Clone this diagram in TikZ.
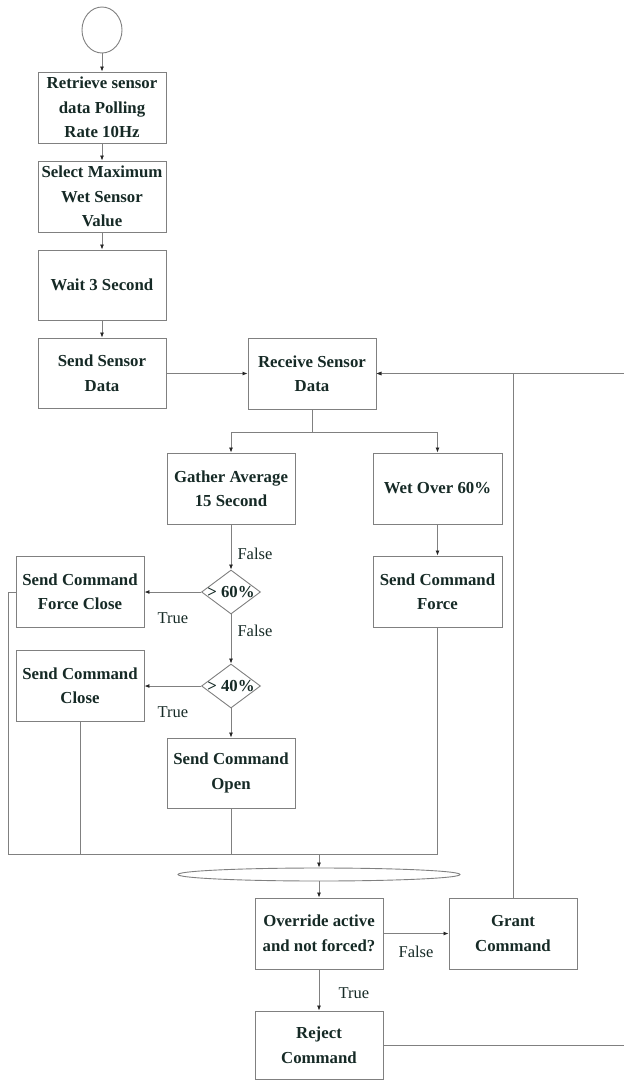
\documentclass[tikz,border=0pt]{standalone}
\usepackage{fontspec}
\setmainfont{Liberation Serif}
\usetikzlibrary{shapes.geometric,arrows.meta}
\definecolor{ln}{RGB}{128,128,128}
\definecolor{tx}{RGB}{22,42,38}
\begin{document}
\begin{tikzpicture}[x=1pt,y=-1pt,
  every node/.style={text=tx},
  box/.style={draw=ln,line width=0.9pt,rectangle,minimum width=128pt,minimum height=71pt,
    align=center,inner sep=2pt,font=\fontsize{16.8}{24.5}\selectfont\bfseries},
  dia/.style={draw=ln,line width=0.9pt,diamond,minimum width=59pt,minimum height=44pt,inner sep=0pt},
  lab/.style={font=\fontsize{16.5}{19}\selectfont,text=tx},
  ar/.style={draw=ln,line width=0.8pt,-{Latex[length=5pt,width=4pt,color=black!85]}},
  cn/.style={draw=ln,line width=0.8pt}]
\useasboundingbox (0,0) rectangle (624,1080);
\node[draw=ln,line width=0.9pt,ellipse,minimum width=40pt,minimum height=46pt,inner sep=0pt] (start) at (102,30) {};
\node[box] (b1) at (102,107.5) {Retrieve sensor\\data Polling\\Rate 10Hz};
\node[box] (b2) at (102,196.5) {Select Maximum\\Wet Sensor\\Value};
\node[box,minimum height=70pt] (b3) at (102,285) {Wait 3 Second};
\node[box,minimum height=70pt] (b4) at (102,373) {Send Sensor\\Data};
\node[box] (recv) at (312,373.5) {Receive Sensor\\Data};
\node[box] (gather) at (231,488.5) {Gather Average\\15 Second};
\node[box,minimum width=129pt] (wet) at (437.5,488.5) {Wet Over 60\%};
\node[box,minimum width=129pt] (force) at (437.5,591.5) {Send Command\\Force};
\node[dia,label={[font=\fontsize{16.8}{20}\selectfont\bfseries,text=tx]center:> 60\%}] (d60) at (231,592) {};
\node[box] (fclose) at (80,591.5) {Send Command\\Force Close};
\node[dia,label={[font=\fontsize{16.8}{20}\selectfont\bfseries,text=tx]center:> 40\%}] (d40) at (231,686) {};
\node[box] (close) at (80,685.5) {Send Command\\Close};
\node[box,minimum height=70pt] (open) at (231,773) {Send Command\\Open};
\node[draw=ln,line width=0.9pt,ellipse,minimum width=282pt,minimum height=13pt,inner sep=0pt] (merge) at (319,874.5) {};
\node[box] (over) at (319,933.5) {Override active\\and not forced?};
\node[box] (grant) at (513,933.5) {Grant\\Command};
\node[box,minimum height=68pt] (reject) at (319,1045) {Reject\\Command};
\coordinate (mj) at (319,854);
\coordinate (lc) at (8,854);
\coordinate (rc) at (628,600);
% arrows
\draw[ar] (start) -- (b1);
\draw[ar] (b1) -- (b2);
\draw[ar] (b2) -- (b3);
\draw[ar] (b3) -- (b4);
\draw[ar] (b4.east |- recv.west) -- (recv.west);
\draw[cn] (recv.south) -- ++(0,23) coordinate (sp);
\draw[ar] (sp) -| (gather.north);
\draw[ar] (sp) -| (wet.north);
\draw[ar] (gather) -- (d60);
\draw[ar] (d60) -- (fclose.east |- d60);
\draw[ar] (d60) -- (d40);
\draw[ar] (d40) -- (close.east |- d40);
\draw[ar] (d40) -- (open);
\draw[ar] (wet) -- (force);
\draw[cn] (fclose.west |- d60) -| (lc) -- (force.south |- lc) -- (force.south);
\draw[cn] (close.south) -- (close.south |- lc);
\draw[cn] (open.south) -- (open.south |- lc);
\draw[ar] (mj) -- (merge.north);
\draw[ar] (merge.south) -- (over.north);
\draw[ar] (over.east) -- (grant.west);
\draw[ar] (over.south) -- (reject.north);
\draw[ar] (grant.north) |- (recv.east);
\draw[ar] (reject.east) -| (rc) |- (recv.east);
% labels
\node[lab,anchor=west] (f1) at (234,554) {False};
\node[lab,anchor=west] (f2) at (234,631) {False};
\node[lab] (t1) at (173,618) {True};
\node[lab] (t2) at (173,712) {True};
\node[lab] (f3) at (416,952) {False};
\node[lab] (t3) at (354,993) {True};
\end{tikzpicture}
\end{document}
